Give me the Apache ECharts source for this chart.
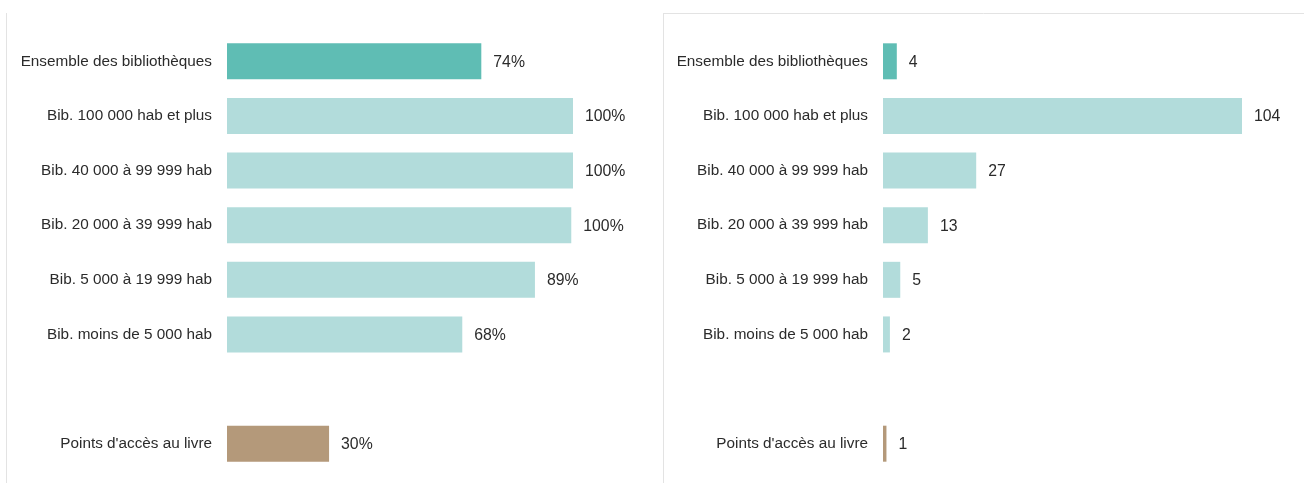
<!DOCTYPE html>
<html>
<head>
<meta charset="utf-8">
<script src="https://cdn.jsdelivr.net/npm/echarts@6/dist/echarts.min.js"></script>
<style>
  body { margin: 0; background: #fff; }
  #chart { width: 1304px; height: 483px; }
</style>
</head>
<body>
<div id="chart"></div>
<script>
// catégories (ligne vide = espace avant les points d'accès)
const categories = [
  'Ensemble des bibliothèques',
  'Bib. 100 000 hab et plus',
  'Bib. 40 000 à 99 999 hab',
  'Bib. 20 000 à 39 999 hab',
  'Bib. 5 000 à 19 999 hab',
  'Bib. moins de 5 000 hab',
  '',
  "Points d'accès au livre"
];
const pctValues = [73.5, 100, 100, 99.5, 89, 68, null, 29.5];   // panneau gauche, en %
const countValues = [4, 104, 27, 13, 5, 2, null, 1];           // panneau droit

const C_DARK = '#5fbdb4', C_LIGHT = '#b2dcdb', C_BROWN = '#b4997a';
function barColor(p) {
  if (p.dataIndex === 0) return C_DARK;
  if (p.dataIndex === categories.length - 1) return C_BROWN;
  return C_LIGHT;
}

const font = 'Liberation Sans, sans-serif';
const yAxisBase = {
  type: 'category',
  data: categories,
  inverse: true,
  axisLine: { show: false },
  axisTick: { show: false },
  axisLabel: { color: '#2b2b2b', fontSize: 15.3, fontFamily: font, margin: 15 }
};
const xAxisBase = { type: 'value', min: 0, show: false };
const valueLabel = {
  show: true, position: 'right', distance: 12, offset: [0, 1],
  color: '#2b2b2b', fontSize: 15.8, fontFamily: font
};

let myChart = echarts.init(document.getElementById('chart'));
myChart.setOption({
  animation: false,
  grid: [
    { left: 227, width: 346, top: 34, height: 437 },
    { left: 883, width: 359, top: 34, height: 437 }
  ],
  xAxis: [
    Object.assign({ gridIndex: 0, max: 100 }, xAxisBase),
    Object.assign({ gridIndex: 1, max: 104 }, xAxisBase)
  ],
  yAxis: [
    Object.assign({ gridIndex: 0 }, yAxisBase),
    Object.assign({ gridIndex: 1 }, yAxisBase)
  ],
  graphic: [//cadres des deux panneaux
    { type: 'line', shape: { x1: 6.5, y1: 13, x2: 6.5, y2: 483 }, style: { stroke: '#e3e3e3', lineWidth: 1 } },
    { type: 'line', shape: { x1: 663.5, y1: 13, x2: 663.5, y2: 483 }, style: { stroke: '#e3e3e3', lineWidth: 1 } },
    { type: 'line', shape: { x1: 663, y1: 13.5, x2: 1304, y2: 13.5 }, style: { stroke: '#e3e3e3', lineWidth: 1 } }
  ],
  series: [
    {
      type: 'bar', xAxisIndex: 0, yAxisIndex: 0,
      data: pctValues, barWidth: 36,
      itemStyle: { color: barColor },
      label: Object.assign({ formatter: p => Math.round(p.value) + '%' }, valueLabel)
    },
    {
      type: 'bar', xAxisIndex: 1, yAxisIndex: 1,
      data: countValues, barWidth: 36,
      itemStyle: { color: barColor },
      label: valueLabel
    }
  ]
});
</script>
</body>
</html>
